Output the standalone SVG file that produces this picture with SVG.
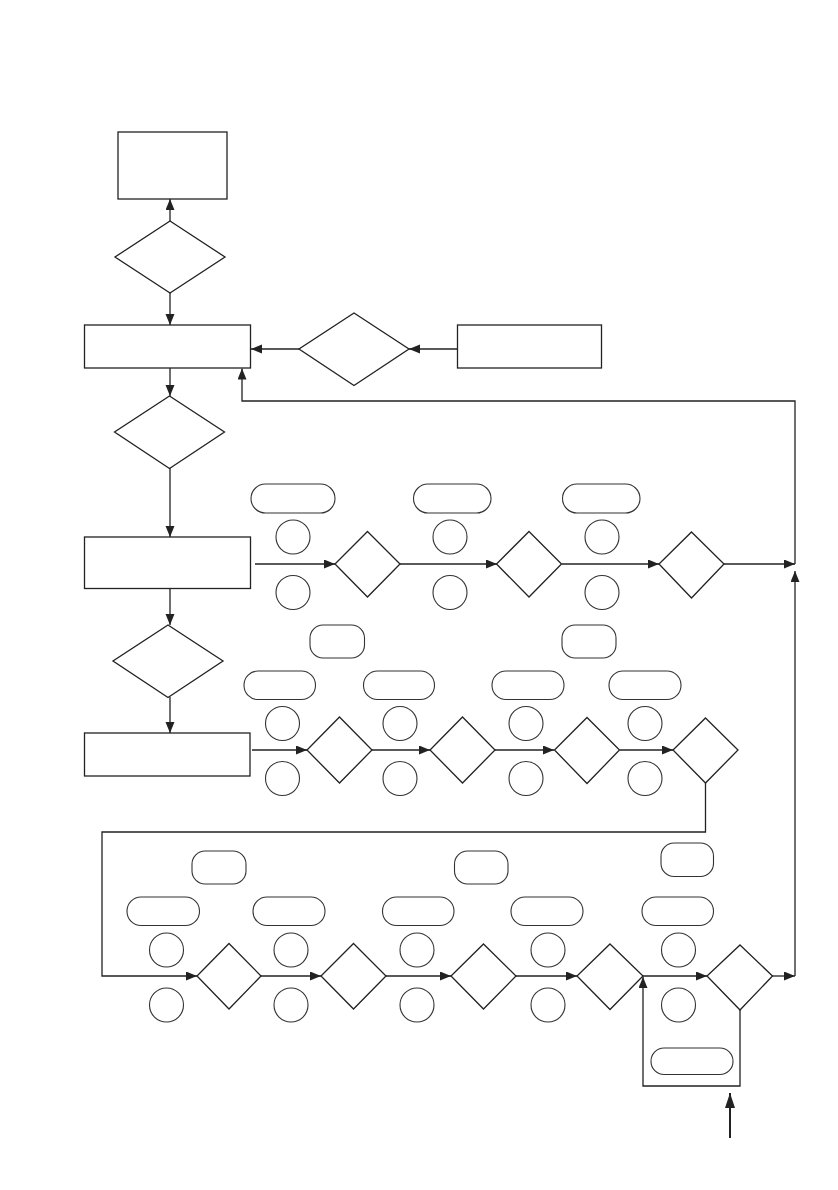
<svg xmlns="http://www.w3.org/2000/svg" width="838" height="1190" viewBox="0 0 838 1190">
<style>
.s{fill:#fff;stroke:#222;stroke-width:1.3}
.t{fill:#fff;stroke:#333;stroke-width:1.1}
.c{fill:none;stroke:#222;stroke-width:1.3}
.a{marker-end:url(#ah)}
</style>
<defs>
<marker id="ah" markerUnits="userSpaceOnUse" markerWidth="12" markerHeight="10" refX="11" refY="4.5" orient="auto">
<path d="M0,0 L11,4.5 L0,9 Z" fill="#222"/>
</marker>
<marker id="ahb" markerUnits="userSpaceOnUse" markerWidth="16" markerHeight="12" refX="15" refY="5" orient="auto">
<path d="M0,0 L15,5 L0,10 Z" fill="#222"/>
</marker>
</defs>
<rect width="838" height="1190" fill="#fff"/>
<g id="connectors">
<line class="c a" x1="170" y1="221" x2="170" y2="199"/>
<line class="c a" x1="170" y1="293" x2="170" y2="325"/>
<line class="c a" x1="457" y1="349" x2="409" y2="349"/>
<line class="c a" x1="299" y1="349" x2="251" y2="349"/>
<path class="c a" d="M795,564 V401 H242 V368.5"/>
<line class="c a" x1="170" y1="368" x2="170" y2="396"/>
<line class="c a" x1="170" y1="468" x2="170" y2="537"/>
<line class="c a" x1="255" y1="564" x2="335" y2="564"/>
<line class="c a" x1="400" y1="564" x2="497" y2="564"/>
<line class="c a" x1="562" y1="564" x2="659" y2="564"/>
<line class="c a" x1="724" y1="564" x2="795" y2="564"/>
<line class="c a" x1="170" y1="588" x2="170" y2="625"/>
<line class="c a" x1="170" y1="697" x2="170" y2="733"/>
<line class="c a" x1="252" y1="750" x2="307" y2="750"/>
<line class="c a" x1="372" y1="750" x2="430" y2="750"/>
<line class="c a" x1="495" y1="750" x2="554" y2="750"/>
<line class="c a" x1="620" y1="750" x2="673" y2="750"/>
<path class="c a" d="M705.5,783 V832 H102 V976 H197"/>
<line class="c a" x1="261" y1="976" x2="321" y2="976"/>
<line class="c a" x1="386" y1="976" x2="451" y2="976"/>
<line class="c a" x1="516" y1="976" x2="577" y2="976"/>
<line class="c a" x1="643" y1="976" x2="707" y2="976"/>
<line class="c a" x1="772" y1="976" x2="795" y2="976"/>
<line class="c a" x1="795" y1="976" x2="795" y2="571"/>
<path class="c a" d="M740,1010 V1086 H643 V977"/>
<line class="c" style="stroke-width:2;marker-end:url(#ahb)" x1="730" y1="1138" x2="730" y2="1093"/>
</g>
<g id="nA"><rect class="s" x="118" y="132" width="109" height="67"/></g>
<g id="nB"><polygon class="s" points="170,221 225,257 170,293 115,257"/></g>
<g id="nC"><rect class="s" x="84.5" y="325" width="166" height="43"/></g>
<g id="nD"><polygon class="s" points="354,313 409,349 354,385.5 299,349"/></g>
<g id="nE"><rect class="s" x="457.5" y="325" width="144" height="43"/></g>
<g id="nF"><polygon class="s" points="169.5,396 224.5,432 169.5,468.5 114.5,432"/></g>
<g id="nG"><rect class="s" x="84.5" y="537" width="166" height="51.5"/></g>
<g id="row1">
<rect class="t" x="251" y="484" width="84" height="29" rx="14.5"/>
<rect class="t" x="413.5" y="484" width="77.5" height="29" rx="14.5"/>
<rect class="t" x="562.5" y="484" width="77.5" height="29" rx="14.5"/>
<ellipse class="t" cx="293" cy="537" rx="17" ry="17"/>
<ellipse class="t" cx="450" cy="537" rx="17" ry="17"/>
<ellipse class="t" cx="602" cy="537" rx="17" ry="17"/>
<ellipse class="t" cx="293" cy="592.5" rx="17" ry="17"/>
<ellipse class="t" cx="450" cy="592.5" rx="17" ry="17"/>
<ellipse class="t" cx="602" cy="592.5" rx="17" ry="17"/>
</g>
<g id="nH1"><polygon class="s" points="367.5,531.5 400,564 367.5,597 335,564"/></g>
<g id="nH2"><polygon class="s" points="529,531.5 561.5,564 529,597 496.5,564"/></g>
<g id="nH3"><polygon class="s" points="691.5,532 724,564 691.5,598 659,564"/></g>
<g id="nI"><polygon class="s" points="168,625 223,661 168,697.5 113,661"/></g>
<g id="nJ"><rect class="s" x="84.5" y="733" width="165.5" height="43"/></g>
<g id="row2">
<rect class="t" x="310" y="625" width="54.5" height="33" rx="13"/>
<rect class="t" x="562" y="625" width="54" height="33" rx="13"/>
<rect class="t" x="244" y="671" width="71.5" height="28.5" rx="14"/>
<rect class="t" x="363.5" y="671" width="71" height="28.5" rx="14"/>
<rect class="t" x="492" y="671" width="72" height="28.5" rx="14"/>
<rect class="t" x="609" y="671" width="72" height="28.5" rx="14"/>
<ellipse class="t" cx="282.5" cy="723.5" rx="17" ry="17"/>
<ellipse class="t" cx="400" cy="723.5" rx="17" ry="17"/>
<ellipse class="t" cx="526" cy="723.5" rx="17" ry="17"/>
<ellipse class="t" cx="645" cy="723.5" rx="17" ry="17"/>
<ellipse class="t" cx="282.5" cy="778.5" rx="17" ry="17"/>
<ellipse class="t" cx="400" cy="778.5" rx="17" ry="17"/>
<ellipse class="t" cx="526" cy="778.5" rx="17" ry="17"/>
<ellipse class="t" cx="645" cy="778.5" rx="17" ry="17"/>
</g>
<g id="nK1"><polygon class="s" points="339.5,717 372,750 339.5,783 307,750"/></g>
<g id="nK2"><polygon class="s" points="462.5,717 495,750 462.5,783 430,750"/></g>
<g id="nK3"><polygon class="s" points="587,717.5 619.5,750 587,783.5 554.5,750"/></g>
<g id="nK4"><polygon class="s" points="705.5,718 738,750 705.5,783 673,750"/></g>
<g id="row3">
<rect class="t" x="192" y="851" width="54" height="33" rx="13"/>
<rect class="t" x="454.5" y="851" width="53.5" height="33" rx="13"/>
<rect class="t" x="661" y="843" width="52.5" height="33.5" rx="13"/>
<rect class="t" x="127" y="897" width="72.5" height="28.5" rx="14"/>
<rect class="t" x="253" y="897" width="72" height="28.5" rx="14"/>
<rect class="t" x="382.5" y="897" width="71.5" height="28.5" rx="14"/>
<rect class="t" x="511" y="897" width="72" height="28.5" rx="14"/>
<rect class="t" x="642" y="897" width="71.5" height="28.5" rx="14"/>
<ellipse class="t" cx="166.5" cy="950" rx="17" ry="17"/>
<ellipse class="t" cx="291" cy="950" rx="17" ry="17"/>
<ellipse class="t" cx="417" cy="950" rx="17" ry="17"/>
<ellipse class="t" cx="548" cy="950" rx="17" ry="17"/>
<ellipse class="t" cx="678.5" cy="950" rx="17" ry="17"/>
<ellipse class="t" cx="166.5" cy="1005" rx="17" ry="17"/>
<ellipse class="t" cx="291" cy="1005" rx="17" ry="17"/>
<ellipse class="t" cx="417" cy="1005" rx="17" ry="17"/>
<ellipse class="t" cx="548" cy="1005" rx="17" ry="17"/>
<ellipse class="t" cx="678.5" cy="1005" rx="17" ry="17"/>
<rect class="t" x="651" y="1048" width="82" height="26.5" rx="13"/>
</g>
<g id="nL1"><polygon class="s" points="229,943.5 261,976 229,1009 197,976"/></g>
<g id="nL2"><polygon class="s" points="353.5,943.5 386,976 353.5,1009 321,976"/></g>
<g id="nL3"><polygon class="s" points="483.5,944 516,976 483.5,1009 451,976"/></g>
<g id="nL4"><polygon class="s" points="610,944 643,976 610,1009.5 577,976"/></g>
<g id="nL5"><polygon class="s" points="740,945 772.5,976 740,1010 707,976"/></g>
</svg>
